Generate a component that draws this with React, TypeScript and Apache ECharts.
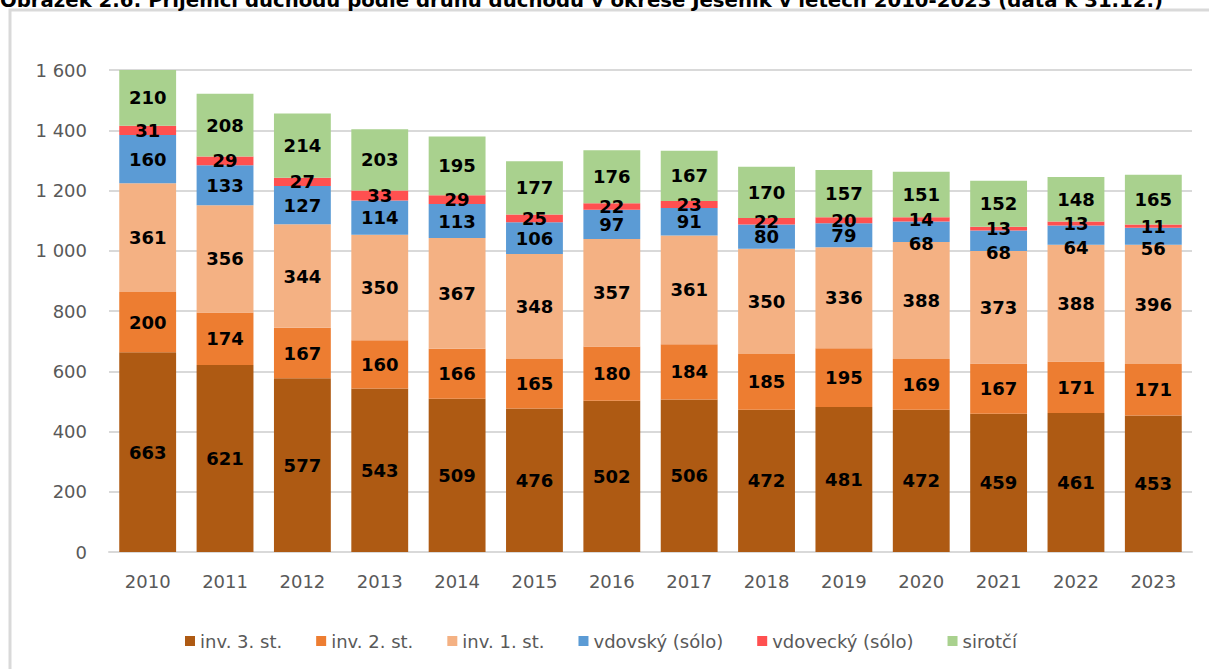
import React, { useEffect, useRef } from "react";
import * as echarts from "echarts";

const years = ["2010", "2011", "2012", "2013", "2014", "2015", "2016", "2017", "2018", "2019", "2020", "2021", "2022", "2023"];
const inv3 = [663, 621, 577, 543, 509, 476, 502, 506, 472, 481, 472, 459, 461, 453];
const inv2 = [200, 174, 167, 160, 166, 165, 180, 184, 185, 195, 169, 167, 171, 171];
const inv1 = [361, 356, 344, 350, 367, 348, 357, 361, 350, 336, 388, 373, 388, 396];
const vdovsky = [160, 133, 127, 114, 113, 106, 97, 91, 80, 79, 68, 68, 64, 56];
const vdovecky = [31, 29, 27, 33, 29, 25, 22, 23, 22, 20, 14, 13, 13, 11];
const sirotci = [210, 208, 214, 203, 195, 177, 176, 167, 170, 157, 151, 152, 148, 165];

const seriesDefs = [
  { name: "inv. 3. st.", data: inv3, color: "#AE5A13" },
  { name: "inv. 2. st.", data: inv2, color: "#ED7D31" },
  { name: "inv. 1. st.", data: inv1, color: "#F4B183" },
  { name: "vdovský (sólo)", data: vdovsky, color: "#5B9BD5" },
  { name: "vdovecký (sólo)", data: vdovecky, color: "#FF5050" },
  { name: "sirotčí", data: sirotci, color: "#A9D18E" },
];

const title = "Obrázek 2.6: Příjemci důchodů podle druhu důchodu v okrese Jeseník v letech 2010-2023 (data k 31.12.)";

export default function App() {
  const ref = useRef<HTMLDivElement>(null);
  useEffect(() => {
    document.body.style.margin = "0";
    const chart = echarts.init(ref.current!, null, { renderer: "svg" });
    chart.setOption({
      animation: false,
      backgroundColor: "#ffffff",
      grid: { left: 109, right: 17, top: 70, bottom: 117, containLabel: false },
      legend: {
        left: 180,
        top: 626,
        itemWidth: 10,
        itemHeight: 10,
        itemGap: 34,
        icon: "rect",
        textStyle: { fontFamily: "DejaVu Sans", fontSize: 18, color: "#595959", lineHeight: 20 },
        data: seriesDefs.map((s) => s.name),
      },
      xAxis: {
        type: "category",
        data: years,
        axisLine: { lineStyle: { color: "#D9D9D9", width: 2 } },
        axisTick: { show: false },
        axisLabel: { fontFamily: "DejaVu Sans", fontSize: 18, color: "#595959", margin: 20 },
      },
      yAxis: {
        type: "value",
        min: 0,
        max: 1600,
        interval: 200,
        axisLine: { show: false },
        axisTick: { show: false },
        splitLine: { lineStyle: { color: "#D9D9D9", width: 2 } },
        axisLabel: {
          fontFamily: "DejaVu Sans",
          fontSize: 18,
          color: "#595959",
          margin: 22,
          formatter: (v: number) => String(v).replace(/\B(?=(\d{3})+(?!\d))/g, " "),
        },
      },
      series: seriesDefs.map((s) => ({
        name: s.name,
        type: "bar",
        stack: "total",
        barWidth: "73.5%",
        data: s.data.map((v) =>
          s.data === vdovsky && v < 70 ? { value: v, label: { offset: [0, 12] } } : v
        ),
        itemStyle: { color: s.color },
        label: {
          show: true,
          position: "inside",
          fontFamily: "DejaVu Sans",
          fontWeight: "bold",
          fontSize: 18,
          color: "#000000",
        },
      })),
      graphic: [
        {
          type: "rect",
          shape: { x: 10, y: 10, width: 1260, height: 720 },
          style: { fill: "none", stroke: "#D9D9D9", lineWidth: 3 },
          silent: true,
        },
        {
          type: "text",
          x: 0,
          y: 10,
          style: {
            text: title,
            fontFamily: "DejaVu Sans",
            fontWeight: "bold",
            fontSize: 19.7,
            fill: "#000000",
            verticalAlign: "bottom",
          },
          silent: true,
        },
      ],
    });
    return () => chart.dispose();
  }, []);
  return <div ref={ref} style={{ width: 1209, height: 669 }} />;
}
